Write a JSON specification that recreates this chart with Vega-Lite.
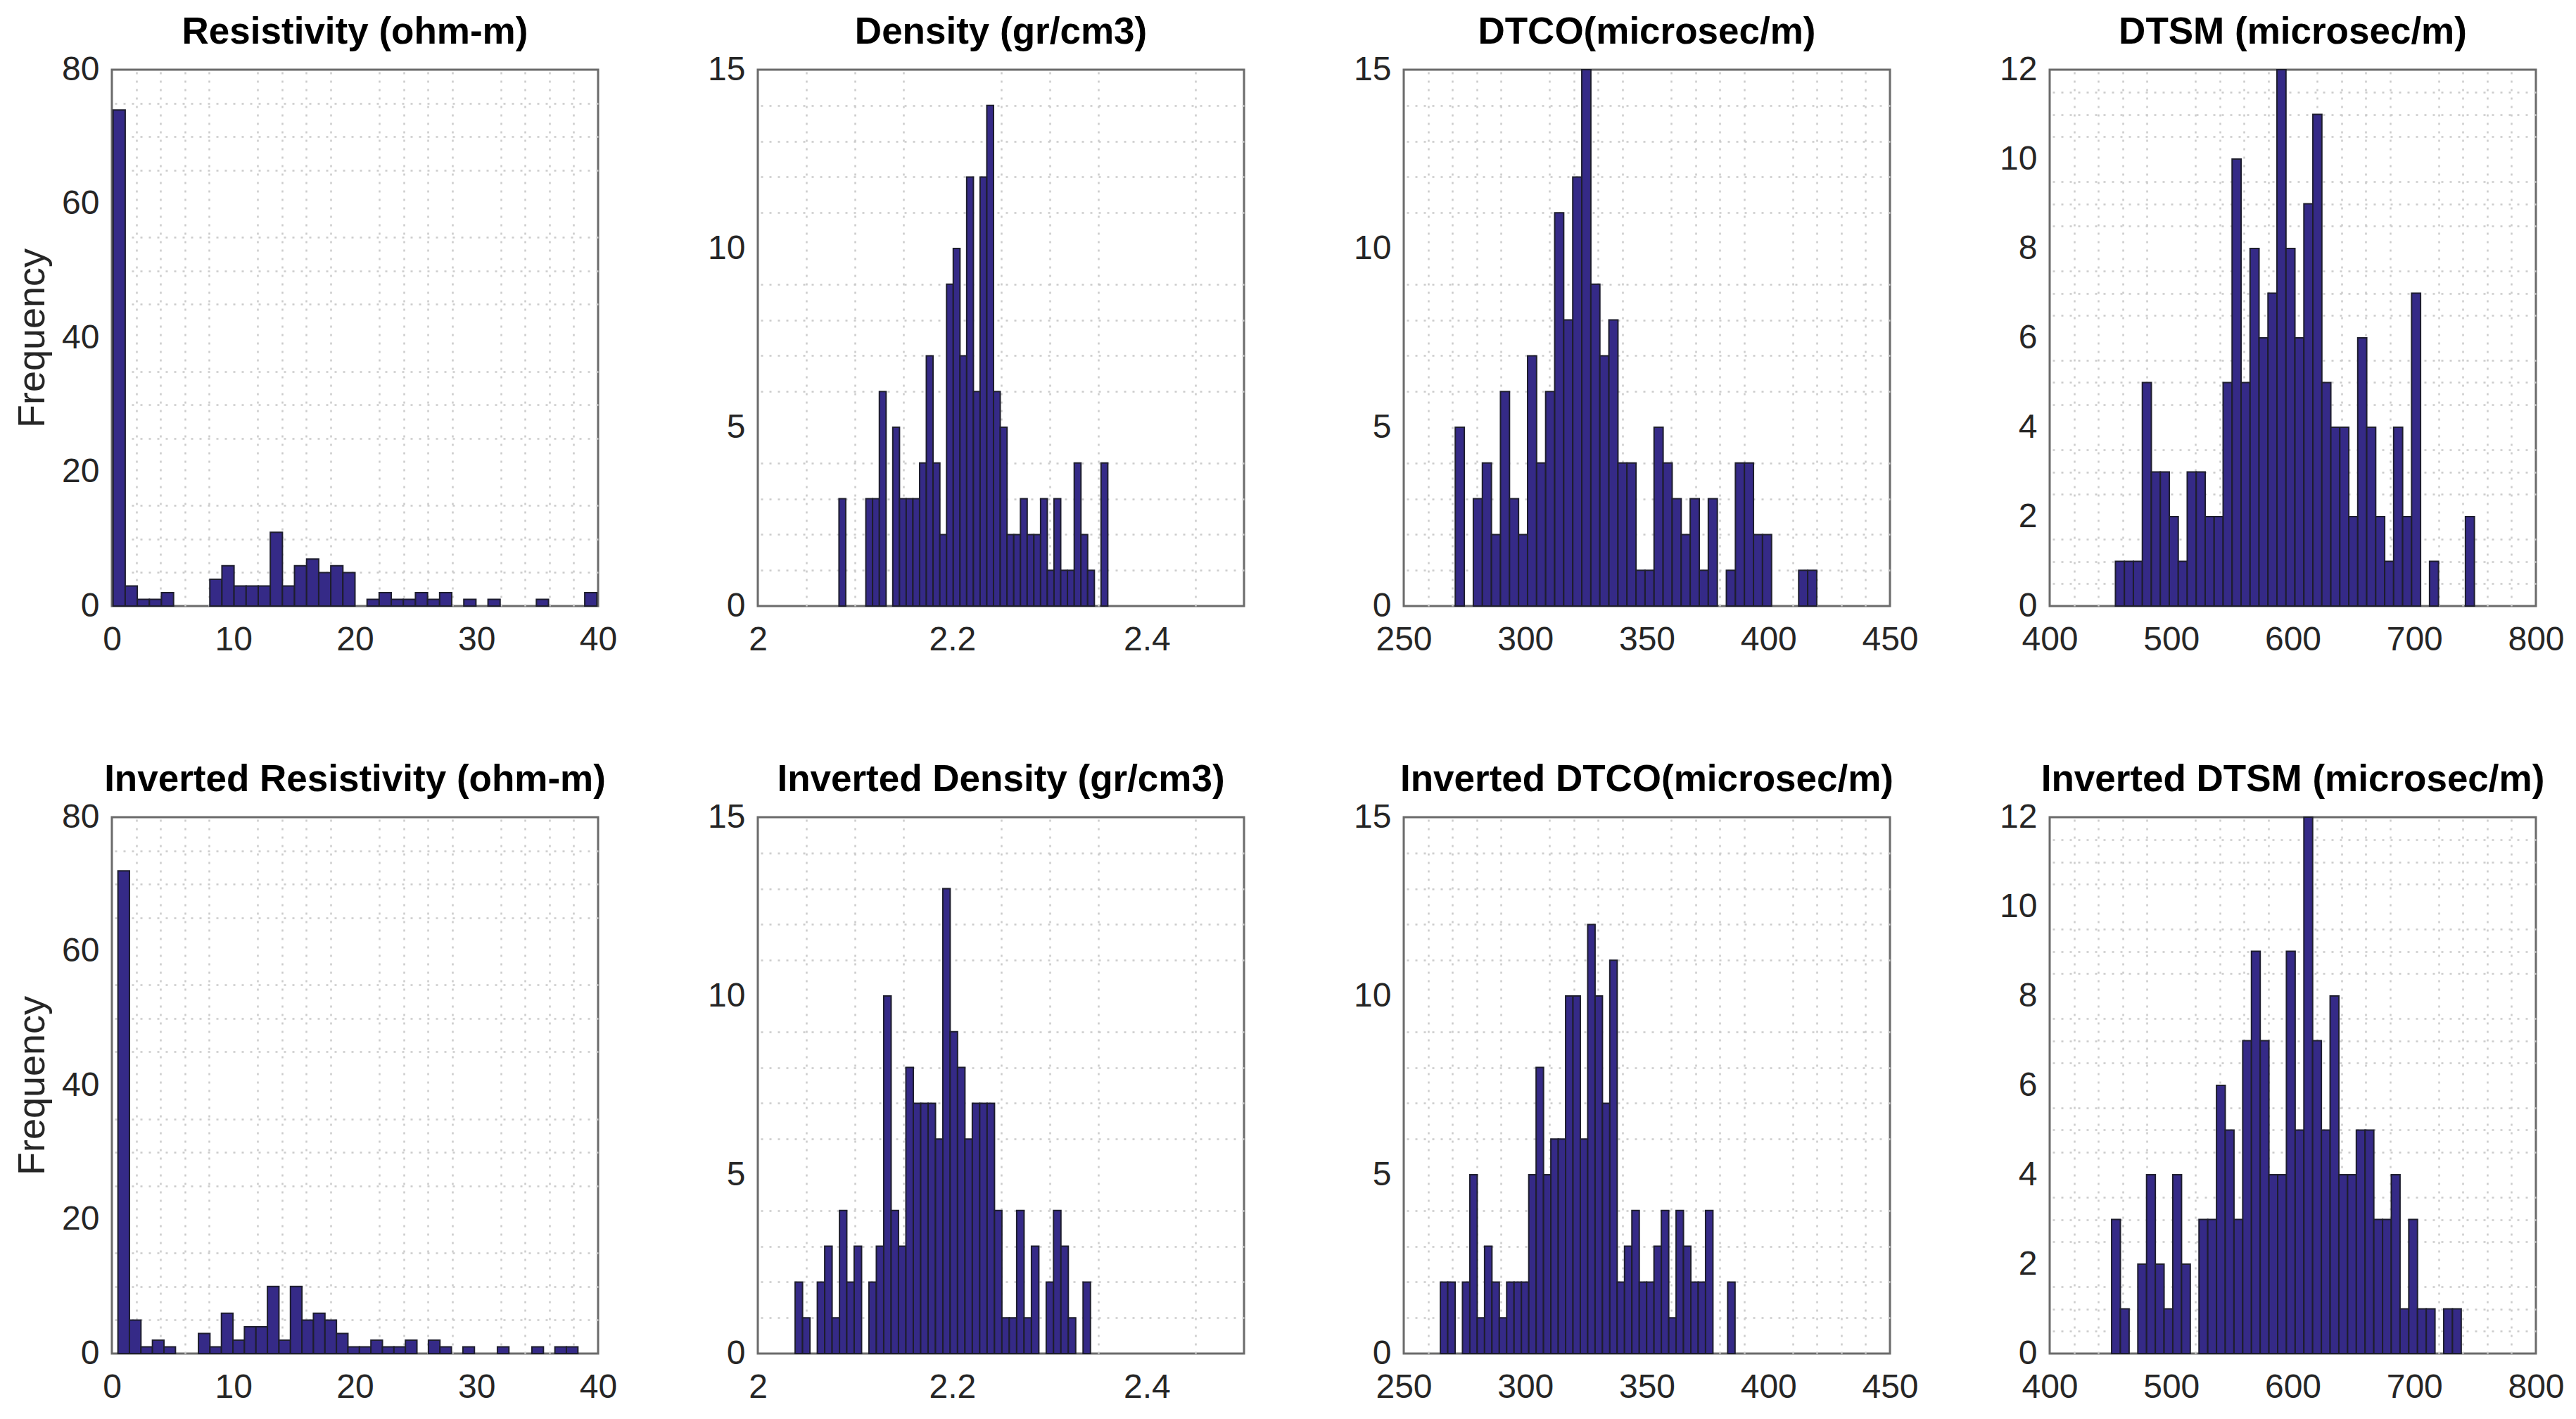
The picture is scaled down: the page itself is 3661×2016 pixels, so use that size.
{
  "$schema": "https://vega.github.io/schema/vega-lite/v6.json",
  "background": "white",
  "padding": {"left": 18, "top": 18, "right": 5, "bottom": 5},
  "config": {
    "view": {"stroke": "#6b6b6b", "strokeWidth": 3},
    "font": "Liberation Sans",
    "axis": {
      "labelFont": "Liberation Sans", "labelFontSize": 48, "labelColor": "#262626",
      "labelFlush": false, "labelOverlap": false, "labelBound": false,
      "gridColor": "#e3e3e3", "gridWidth": 3, "domain": false, "ticks": false,
      "titleFont": "Liberation Sans", "titleFontSize": 54, "titleFontWeight": "normal", "titleColor": "#262626"
    },
    "axisX": {"labelPadding": 24},
    "axisY": {"labelPadding": 18, "titlePadding": 14},
    "title": {"font": "Liberation Sans", "fontSize": 53, "fontWeight": "bold", "color": "#000000", "offset": 2, "anchor": "middle"}
  },
  "datasets": {
    "res": [{"lo":0.1,"hi":1.095,"n":74},{"lo":1.095,"hi":2.09,"n":3},{"lo":2.09,"hi":3.085,"n":1},{"lo":3.085,"hi":4.08,"n":1},{"lo":4.08,"hi":5.075,"n":2},{"lo":8.06,"hi":9.055,"n":4},{"lo":9.055,"hi":10.05,"n":6},{"lo":10.05,"hi":11.045,"n":3},{"lo":11.045,"hi":12.04,"n":3},{"lo":12.04,"hi":13.035,"n":3},{"lo":13.035,"hi":14.03,"n":11},{"lo":14.03,"hi":15.025,"n":3},{"lo":15.025,"hi":16.02,"n":6},{"lo":16.02,"hi":17.015,"n":7},{"lo":17.015,"hi":18.01,"n":5},{"lo":18.01,"hi":19.005,"n":6},{"lo":19.005,"hi":20.0,"n":5},{"lo":20.995,"hi":21.99,"n":1},{"lo":21.99,"hi":22.985,"n":2},{"lo":22.985,"hi":23.98,"n":1},{"lo":23.98,"hi":24.975,"n":1},{"lo":24.975,"hi":25.97,"n":2},{"lo":25.97,"hi":26.965,"n":1},{"lo":26.965,"hi":27.96,"n":2},{"lo":28.955,"hi":29.95,"n":1},{"lo":30.945,"hi":31.94,"n":1},{"lo":34.925,"hi":35.92,"n":1},{"lo":38.905,"hi":39.9,"n":2}],
    "den": [{"lo":2.0835,"hi":2.0904,"n":3},{"lo":2.1111,"hi":2.118,"n":3},{"lo":2.118,"hi":2.125,"n":3},{"lo":2.125,"hi":2.1319,"n":6},{"lo":2.1388,"hi":2.1457,"n":5},{"lo":2.1457,"hi":2.1526,"n":3},{"lo":2.1526,"hi":2.1595,"n":3},{"lo":2.1595,"hi":2.1664,"n":3},{"lo":2.1664,"hi":2.1733,"n":4},{"lo":2.1733,"hi":2.1802,"n":7},{"lo":2.1802,"hi":2.1872,"n":4},{"lo":2.1872,"hi":2.1941,"n":2},{"lo":2.1941,"hi":2.201,"n":9},{"lo":2.201,"hi":2.2079,"n":10},{"lo":2.2079,"hi":2.2148,"n":7},{"lo":2.2148,"hi":2.2217,"n":12},{"lo":2.2217,"hi":2.2286,"n":6},{"lo":2.2286,"hi":2.2355,"n":12},{"lo":2.2355,"hi":2.2424,"n":14},{"lo":2.2424,"hi":2.2493,"n":6},{"lo":2.2493,"hi":2.2563,"n":5},{"lo":2.2563,"hi":2.2632,"n":2},{"lo":2.2632,"hi":2.2701,"n":2},{"lo":2.2701,"hi":2.277,"n":3},{"lo":2.277,"hi":2.2839,"n":2},{"lo":2.2839,"hi":2.2908,"n":2},{"lo":2.2908,"hi":2.2977,"n":3},{"lo":2.2977,"hi":2.3046,"n":1},{"lo":2.3046,"hi":2.3115,"n":3},{"lo":2.3115,"hi":2.3184,"n":1},{"lo":2.3184,"hi":2.3254,"n":1},{"lo":2.3254,"hi":2.3323,"n":4},{"lo":2.3323,"hi":2.3392,"n":2},{"lo":2.3392,"hi":2.3461,"n":1},{"lo":2.353,"hi":2.3599,"n":4}],
    "dtco": [{"lo":271.2,"hi":274.92,"n":5},{"lo":278.63,"hi":282.35,"n":3},{"lo":282.35,"hi":286.07,"n":4},{"lo":286.07,"hi":289.79,"n":2},{"lo":289.79,"hi":293.5,"n":6},{"lo":293.5,"hi":297.22,"n":3},{"lo":297.22,"hi":300.94,"n":2},{"lo":300.94,"hi":304.65,"n":7},{"lo":304.65,"hi":308.37,"n":4},{"lo":308.37,"hi":312.09,"n":6},{"lo":312.09,"hi":315.8,"n":11},{"lo":315.8,"hi":319.52,"n":8},{"lo":319.52,"hi":323.24,"n":12},{"lo":323.24,"hi":326.96,"n":15},{"lo":326.96,"hi":330.67,"n":9},{"lo":330.67,"hi":334.39,"n":7},{"lo":334.39,"hi":338.11,"n":8},{"lo":338.11,"hi":341.82,"n":4},{"lo":341.82,"hi":345.54,"n":4},{"lo":345.54,"hi":349.26,"n":1},{"lo":349.26,"hi":352.97,"n":1},{"lo":352.97,"hi":356.69,"n":5},{"lo":356.69,"hi":360.41,"n":4},{"lo":360.41,"hi":364.13,"n":3},{"lo":364.13,"hi":367.84,"n":2},{"lo":367.84,"hi":371.56,"n":3},{"lo":371.56,"hi":375.28,"n":1},{"lo":375.28,"hi":378.99,"n":3},{"lo":382.71,"hi":386.43,"n":1},{"lo":386.43,"hi":390.14,"n":4},{"lo":390.14,"hi":393.86,"n":4},{"lo":393.86,"hi":397.58,"n":2},{"lo":397.58,"hi":401.3,"n":2},{"lo":412.45,"hi":416.16,"n":1},{"lo":416.16,"hi":419.88,"n":1}],
    "dtsm": [{"lo":454.1,"hi":461.48,"n":1},{"lo":461.48,"hi":468.87,"n":1},{"lo":468.87,"hi":476.25,"n":1},{"lo":476.25,"hi":483.63,"n":5},{"lo":483.63,"hi":491.02,"n":3},{"lo":491.02,"hi":498.4,"n":3},{"lo":498.4,"hi":505.78,"n":2},{"lo":505.78,"hi":513.16,"n":1},{"lo":513.16,"hi":520.55,"n":3},{"lo":520.55,"hi":527.93,"n":3},{"lo":527.93,"hi":535.31,"n":2},{"lo":535.31,"hi":542.7,"n":2},{"lo":542.7,"hi":550.08,"n":5},{"lo":550.08,"hi":557.46,"n":10},{"lo":557.46,"hi":564.85,"n":5},{"lo":564.85,"hi":572.23,"n":8},{"lo":572.23,"hi":579.61,"n":6},{"lo":579.61,"hi":586.99,"n":7},{"lo":586.99,"hi":594.38,"n":12},{"lo":594.38,"hi":601.76,"n":8},{"lo":601.76,"hi":609.14,"n":6},{"lo":609.14,"hi":616.53,"n":9},{"lo":616.53,"hi":623.91,"n":11},{"lo":623.91,"hi":631.29,"n":5},{"lo":631.29,"hi":638.68,"n":4},{"lo":638.68,"hi":646.06,"n":4},{"lo":646.06,"hi":653.44,"n":2},{"lo":653.44,"hi":660.82,"n":6},{"lo":660.82,"hi":668.21,"n":4},{"lo":668.21,"hi":675.59,"n":2},{"lo":675.59,"hi":682.97,"n":1},{"lo":682.97,"hi":690.36,"n":4},{"lo":690.36,"hi":697.74,"n":2},{"lo":697.74,"hi":705.12,"n":7},{"lo":712.51,"hi":719.89,"n":1},{"lo":742.04,"hi":749.42,"n":2}],
    "ires": [{"lo":0.5,"hi":1.446,"n":72},{"lo":1.446,"hi":2.392,"n":5},{"lo":2.392,"hi":3.338,"n":1},{"lo":3.338,"hi":4.284,"n":2},{"lo":4.284,"hi":5.23,"n":1},{"lo":7.122,"hi":8.068,"n":3},{"lo":8.068,"hi":9.014,"n":1},{"lo":9.014,"hi":9.96,"n":6},{"lo":9.96,"hi":10.906,"n":2},{"lo":10.906,"hi":11.852,"n":4},{"lo":11.852,"hi":12.798,"n":4},{"lo":12.798,"hi":13.744,"n":10},{"lo":13.744,"hi":14.69,"n":2},{"lo":14.69,"hi":15.636,"n":10},{"lo":15.636,"hi":16.582,"n":5},{"lo":16.582,"hi":17.528,"n":6},{"lo":17.528,"hi":18.474,"n":5},{"lo":18.474,"hi":19.42,"n":3},{"lo":19.42,"hi":20.366,"n":1},{"lo":20.366,"hi":21.312,"n":1},{"lo":21.312,"hi":22.258,"n":2},{"lo":22.258,"hi":23.204,"n":1},{"lo":23.204,"hi":24.15,"n":1},{"lo":24.15,"hi":25.096,"n":2},{"lo":26.042,"hi":26.988,"n":2},{"lo":26.988,"hi":27.934,"n":1},{"lo":28.88,"hi":29.826,"n":1},{"lo":31.718,"hi":32.664,"n":1},{"lo":34.556,"hi":35.502,"n":1},{"lo":36.448,"hi":37.394,"n":1},{"lo":37.394,"hi":38.34,"n":1}],
    "iden": [{"lo":2.0384,"hi":2.046,"n":2},{"lo":2.046,"hi":2.0536,"n":1},{"lo":2.0612,"hi":2.0688,"n":2},{"lo":2.0688,"hi":2.0764,"n":3},{"lo":2.0764,"hi":2.084,"n":1},{"lo":2.084,"hi":2.0915,"n":4},{"lo":2.0915,"hi":2.0991,"n":2},{"lo":2.0991,"hi":2.1067,"n":3},{"lo":2.1143,"hi":2.1219,"n":2},{"lo":2.1219,"hi":2.1295,"n":3},{"lo":2.1295,"hi":2.1371,"n":10},{"lo":2.1371,"hi":2.1447,"n":4},{"lo":2.1447,"hi":2.1523,"n":3},{"lo":2.1523,"hi":2.1599,"n":8},{"lo":2.1599,"hi":2.1675,"n":7},{"lo":2.1675,"hi":2.1751,"n":7},{"lo":2.1751,"hi":2.1827,"n":7},{"lo":2.1827,"hi":2.1903,"n":6},{"lo":2.1903,"hi":2.1978,"n":13},{"lo":2.1978,"hi":2.2054,"n":9},{"lo":2.2054,"hi":2.213,"n":8},{"lo":2.213,"hi":2.2206,"n":6},{"lo":2.2206,"hi":2.2282,"n":7},{"lo":2.2282,"hi":2.2358,"n":7},{"lo":2.2358,"hi":2.2434,"n":7},{"lo":2.2434,"hi":2.251,"n":4},{"lo":2.251,"hi":2.2586,"n":1},{"lo":2.2586,"hi":2.2662,"n":1},{"lo":2.2662,"hi":2.2738,"n":4},{"lo":2.2738,"hi":2.2814,"n":1},{"lo":2.2814,"hi":2.289,"n":3},{"lo":2.2966,"hi":2.3041,"n":2},{"lo":2.3041,"hi":2.3117,"n":4},{"lo":2.3117,"hi":2.3193,"n":3},{"lo":2.3193,"hi":2.3269,"n":1},{"lo":2.3345,"hi":2.3421,"n":2}],
    "idtco": [{"lo":265.07,"hi":268.1,"n":2},{"lo":268.1,"hi":271.13,"n":2},{"lo":274.16,"hi":277.19,"n":2},{"lo":277.19,"hi":280.22,"n":5},{"lo":280.22,"hi":283.25,"n":1},{"lo":283.25,"hi":286.28,"n":3},{"lo":286.28,"hi":289.31,"n":2},{"lo":289.31,"hi":292.34,"n":1},{"lo":292.34,"hi":295.37,"n":2},{"lo":295.37,"hi":298.4,"n":2},{"lo":298.4,"hi":301.43,"n":2},{"lo":301.43,"hi":304.46,"n":5},{"lo":304.46,"hi":307.49,"n":8},{"lo":307.49,"hi":310.52,"n":5},{"lo":310.52,"hi":313.55,"n":6},{"lo":313.55,"hi":316.58,"n":6},{"lo":316.58,"hi":319.61,"n":10},{"lo":319.61,"hi":322.64,"n":10},{"lo":322.64,"hi":325.67,"n":6},{"lo":325.67,"hi":328.7,"n":12},{"lo":328.7,"hi":331.73,"n":10},{"lo":331.73,"hi":334.76,"n":7},{"lo":334.76,"hi":337.79,"n":11},{"lo":337.79,"hi":340.82,"n":2},{"lo":340.82,"hi":343.85,"n":3},{"lo":343.85,"hi":346.88,"n":4},{"lo":346.88,"hi":349.91,"n":2},{"lo":349.91,"hi":352.94,"n":2},{"lo":352.94,"hi":355.97,"n":3},{"lo":355.97,"hi":359.0,"n":4},{"lo":359.0,"hi":362.03,"n":1},{"lo":362.03,"hi":365.06,"n":4},{"lo":365.06,"hi":368.09,"n":3},{"lo":368.09,"hi":371.12,"n":2},{"lo":371.12,"hi":374.15,"n":2},{"lo":374.15,"hi":377.18,"n":4},{"lo":383.24,"hi":386.27,"n":2}],
    "idtsm": [{"lo":450.96,"hi":458.15,"n":3},{"lo":458.15,"hi":465.34,"n":1},{"lo":472.53,"hi":479.72,"n":2},{"lo":479.72,"hi":486.91,"n":4},{"lo":486.91,"hi":494.1,"n":2},{"lo":494.1,"hi":501.29,"n":1},{"lo":501.29,"hi":508.48,"n":4},{"lo":508.48,"hi":515.67,"n":2},{"lo":522.86,"hi":530.05,"n":3},{"lo":530.05,"hi":537.24,"n":3},{"lo":537.24,"hi":544.43,"n":6},{"lo":544.43,"hi":551.62,"n":5},{"lo":551.62,"hi":558.81,"n":3},{"lo":558.81,"hi":566.0,"n":7},{"lo":566.0,"hi":573.19,"n":9},{"lo":573.19,"hi":580.38,"n":7},{"lo":580.38,"hi":587.57,"n":4},{"lo":587.57,"hi":594.76,"n":4},{"lo":594.76,"hi":601.95,"n":9},{"lo":601.95,"hi":609.14,"n":5},{"lo":609.14,"hi":616.33,"n":12},{"lo":616.33,"hi":623.52,"n":7},{"lo":623.52,"hi":630.71,"n":5},{"lo":630.71,"hi":637.9,"n":8},{"lo":637.9,"hi":645.09,"n":4},{"lo":645.09,"hi":652.28,"n":4},{"lo":652.28,"hi":659.47,"n":5},{"lo":659.47,"hi":666.66,"n":5},{"lo":666.66,"hi":673.85,"n":3},{"lo":673.85,"hi":681.04,"n":3},{"lo":681.04,"hi":688.23,"n":4},{"lo":688.23,"hi":695.42,"n":1},{"lo":695.42,"hi":702.61,"n":3},{"lo":702.61,"hi":709.8,"n":1},{"lo":709.8,"hi":716.99,"n":1},{"lo":724.18,"hi":731.37,"n":1},{"lo":731.37,"hi":738.56,"n":1}]
  },
  "columns": 4,
  "bounds": "flush",
  "spacing": {"row": 300, "column": 227},
  "concat": [
    {
      "width": 691, "height": 762, "title": "Resistivity (ohm-m)", "data": {"name": "res"},
      "layer": [
        {"mark": {"type": "bar", "opacity": 0},
         "encoding": {
           "x": {"field": "lo", "type": "quantitative", "scale": {"domain": [0, 40], "nice": false}, "axis": {"orient": "top", "values": [2,4,6,8,12,14,16,18,22,24,26,28,32,34,36,38], "labels": false, "title": null, "gridColor": "#cccccc", "gridDash": [3, 9], "gridWidth": 2.5}},
           "x2": {"field": "hi"},
           "y": {"field": "n", "type": "quantitative", "scale": {"domain": [0, 80], "nice": false}, "axis": {"orient": "right", "values": [5,10,15,25,30,35,45,50,55,65,70,75], "labels": false, "title": null, "gridColor": "#cccccc", "gridDash": [3, 9], "gridWidth": 2.5}},
           "y2": {"datum": 0}
         }},
        {"mark": {"type": "bar", "fill": "#352a87", "stroke": "#1e1e2e", "strokeWidth": 2},
         "encoding": {
           "x": {"field": "lo", "type": "quantitative", "axis": {"orient": "bottom", "values": [0,10,20,30,40], "format": "~f", "title": null}},
           "x2": {"field": "hi"},
           "y": {"field": "n", "type": "quantitative", "axis": {"orient": "left", "values": [0,20,40,60,80], "format": "~f", "title": "Frequency"}},
           "y2": {"datum": 0}
         }}
      ],
      "resolve": {"axis": {"x": "independent", "y": "independent"}}
    },
    {
      "width": 691, "height": 762, "title": "Density (gr/cm3)", "data": {"name": "den"},
      "layer": [
        {"mark": {"type": "bar", "opacity": 0},
         "encoding": {
           "x": {"field": "lo", "type": "quantitative", "scale": {"domain": [2, 2.5], "nice": false}, "axis": {"orient": "top", "values": [2.05,2.1,2.15,2.25,2.3,2.35,2.45], "labels": false, "title": null, "gridColor": "#cccccc", "gridDash": [3, 9], "gridWidth": 2.5}},
           "x2": {"field": "hi"},
           "y": {"field": "n", "type": "quantitative", "scale": {"domain": [0, 15], "nice": false}, "axis": {"orient": "right", "values": [1,2,3,4,6,7,8,9,11,12,13,14], "labels": false, "title": null, "gridColor": "#cccccc", "gridDash": [3, 9], "gridWidth": 2.5}},
           "y2": {"datum": 0}
         }},
        {"mark": {"type": "bar", "fill": "#352a87", "stroke": "#1e1e2e", "strokeWidth": 2},
         "encoding": {
           "x": {"field": "lo", "type": "quantitative", "axis": {"orient": "bottom", "values": [2,2.2,2.4], "format": "~f", "title": null}},
           "x2": {"field": "hi"},
           "y": {"field": "n", "type": "quantitative", "axis": {"orient": "left", "values": [0,5,10,15], "format": "~f", "title": null}},
           "y2": {"datum": 0}
         }}
      ],
      "resolve": {"axis": {"x": "independent", "y": "independent"}}
    },
    {
      "width": 691, "height": 762, "title": "DTCO(microsec/m)", "data": {"name": "dtco"},
      "layer": [
        {"mark": {"type": "bar", "opacity": 0},
         "encoding": {
           "x": {"field": "lo", "type": "quantitative", "scale": {"domain": [250, 450], "nice": false}, "axis": {"orient": "top", "values": [260,270,280,290,310,320,330,340,360,370,380,390,410,420,430,440], "labels": false, "title": null, "gridColor": "#cccccc", "gridDash": [3, 9], "gridWidth": 2.5}},
           "x2": {"field": "hi"},
           "y": {"field": "n", "type": "quantitative", "scale": {"domain": [0, 15], "nice": false}, "axis": {"orient": "right", "values": [1,2,3,4,6,7,8,9,11,12,13,14], "labels": false, "title": null, "gridColor": "#cccccc", "gridDash": [3, 9], "gridWidth": 2.5}},
           "y2": {"datum": 0}
         }},
        {"mark": {"type": "bar", "fill": "#352a87", "stroke": "#1e1e2e", "strokeWidth": 2},
         "encoding": {
           "x": {"field": "lo", "type": "quantitative", "axis": {"orient": "bottom", "values": [250,300,350,400,450], "format": "~f", "title": null}},
           "x2": {"field": "hi"},
           "y": {"field": "n", "type": "quantitative", "axis": {"orient": "left", "values": [0,5,10,15], "format": "~f", "title": null}},
           "y2": {"datum": 0}
         }}
      ],
      "resolve": {"axis": {"x": "independent", "y": "independent"}}
    },
    {
      "width": 691, "height": 762, "title": "DTSM (microsec/m)", "data": {"name": "dtsm"},
      "layer": [
        {"mark": {"type": "bar", "opacity": 0},
         "encoding": {
           "x": {"field": "lo", "type": "quantitative", "scale": {"domain": [400, 800], "nice": false}, "axis": {"orient": "top", "values": [420,440,460,480,520,540,560,580,620,640,660,680,720,740,760,780], "labels": false, "title": null, "gridColor": "#cccccc", "gridDash": [3, 9], "gridWidth": 2.5}},
           "x2": {"field": "hi"},
           "y": {"field": "n", "type": "quantitative", "scale": {"domain": [0, 12], "nice": false}, "axis": {"orient": "right", "values": [0.5,1,1.5,2.5,3,3.5,4.5,5,5.5,6.5,7,7.5,8.5,9,9.5,10.5,11,11.5], "labels": false, "title": null, "gridColor": "#cccccc", "gridDash": [3, 9], "gridWidth": 2.5}},
           "y2": {"datum": 0}
         }},
        {"mark": {"type": "bar", "fill": "#352a87", "stroke": "#1e1e2e", "strokeWidth": 2},
         "encoding": {
           "x": {"field": "lo", "type": "quantitative", "axis": {"orient": "bottom", "values": [400,500,600,700,800], "format": "~f", "title": null}},
           "x2": {"field": "hi"},
           "y": {"field": "n", "type": "quantitative", "axis": {"orient": "left", "values": [0,2,4,6,8,10,12], "format": "~f", "title": null}},
           "y2": {"datum": 0}
         }}
      ],
      "resolve": {"axis": {"x": "independent", "y": "independent"}}
    },
    {
      "width": 691, "height": 762, "title": "Inverted Resistivity (ohm-m)", "data": {"name": "ires"},
      "layer": [
        {"mark": {"type": "bar", "opacity": 0},
         "encoding": {
           "x": {"field": "lo", "type": "quantitative", "scale": {"domain": [0, 40], "nice": false}, "axis": {"orient": "top", "values": [2,4,6,8,12,14,16,18,22,24,26,28,32,34,36,38], "labels": false, "title": null, "gridColor": "#cccccc", "gridDash": [3, 9], "gridWidth": 2.5}},
           "x2": {"field": "hi"},
           "y": {"field": "n", "type": "quantitative", "scale": {"domain": [0, 80], "nice": false}, "axis": {"orient": "right", "values": [5,10,15,25,30,35,45,50,55,65,70,75], "labels": false, "title": null, "gridColor": "#cccccc", "gridDash": [3, 9], "gridWidth": 2.5}},
           "y2": {"datum": 0}
         }},
        {"mark": {"type": "bar", "fill": "#352a87", "stroke": "#1e1e2e", "strokeWidth": 2},
         "encoding": {
           "x": {"field": "lo", "type": "quantitative", "axis": {"orient": "bottom", "values": [0,10,20,30,40], "format": "~f", "title": null}},
           "x2": {"field": "hi"},
           "y": {"field": "n", "type": "quantitative", "axis": {"orient": "left", "values": [0,20,40,60,80], "format": "~f", "title": "Frequency"}},
           "y2": {"datum": 0}
         }}
      ],
      "resolve": {"axis": {"x": "independent", "y": "independent"}}
    },
    {
      "width": 691, "height": 762, "title": "Inverted Density (gr/cm3)", "data": {"name": "iden"},
      "layer": [
        {"mark": {"type": "bar", "opacity": 0},
         "encoding": {
           "x": {"field": "lo", "type": "quantitative", "scale": {"domain": [2, 2.5], "nice": false}, "axis": {"orient": "top", "values": [2.05,2.1,2.15,2.25,2.3,2.35,2.45], "labels": false, "title": null, "gridColor": "#cccccc", "gridDash": [3, 9], "gridWidth": 2.5}},
           "x2": {"field": "hi"},
           "y": {"field": "n", "type": "quantitative", "scale": {"domain": [0, 15], "nice": false}, "axis": {"orient": "right", "values": [1,2,3,4,6,7,8,9,11,12,13,14], "labels": false, "title": null, "gridColor": "#cccccc", "gridDash": [3, 9], "gridWidth": 2.5}},
           "y2": {"datum": 0}
         }},
        {"mark": {"type": "bar", "fill": "#352a87", "stroke": "#1e1e2e", "strokeWidth": 2},
         "encoding": {
           "x": {"field": "lo", "type": "quantitative", "axis": {"orient": "bottom", "values": [2,2.2,2.4], "format": "~f", "title": null}},
           "x2": {"field": "hi"},
           "y": {"field": "n", "type": "quantitative", "axis": {"orient": "left", "values": [0,5,10,15], "format": "~f", "title": null}},
           "y2": {"datum": 0}
         }}
      ],
      "resolve": {"axis": {"x": "independent", "y": "independent"}}
    },
    {
      "width": 691, "height": 762, "title": "Inverted DTCO(microsec/m)", "data": {"name": "idtco"},
      "layer": [
        {"mark": {"type": "bar", "opacity": 0},
         "encoding": {
           "x": {"field": "lo", "type": "quantitative", "scale": {"domain": [250, 450], "nice": false}, "axis": {"orient": "top", "values": [260,270,280,290,310,320,330,340,360,370,380,390,410,420,430,440], "labels": false, "title": null, "gridColor": "#cccccc", "gridDash": [3, 9], "gridWidth": 2.5}},
           "x2": {"field": "hi"},
           "y": {"field": "n", "type": "quantitative", "scale": {"domain": [0, 15], "nice": false}, "axis": {"orient": "right", "values": [1,2,3,4,6,7,8,9,11,12,13,14], "labels": false, "title": null, "gridColor": "#cccccc", "gridDash": [3, 9], "gridWidth": 2.5}},
           "y2": {"datum": 0}
         }},
        {"mark": {"type": "bar", "fill": "#352a87", "stroke": "#1e1e2e", "strokeWidth": 2},
         "encoding": {
           "x": {"field": "lo", "type": "quantitative", "axis": {"orient": "bottom", "values": [250,300,350,400,450], "format": "~f", "title": null}},
           "x2": {"field": "hi"},
           "y": {"field": "n", "type": "quantitative", "axis": {"orient": "left", "values": [0,5,10,15], "format": "~f", "title": null}},
           "y2": {"datum": 0}
         }}
      ],
      "resolve": {"axis": {"x": "independent", "y": "independent"}}
    },
    {
      "width": 691, "height": 762, "title": "Inverted DTSM (microsec/m)", "data": {"name": "idtsm"},
      "layer": [
        {"mark": {"type": "bar", "opacity": 0},
         "encoding": {
           "x": {"field": "lo", "type": "quantitative", "scale": {"domain": [400, 800], "nice": false}, "axis": {"orient": "top", "values": [420,440,460,480,520,540,560,580,620,640,660,680,720,740,760,780], "labels": false, "title": null, "gridColor": "#cccccc", "gridDash": [3, 9], "gridWidth": 2.5}},
           "x2": {"field": "hi"},
           "y": {"field": "n", "type": "quantitative", "scale": {"domain": [0, 12], "nice": false}, "axis": {"orient": "right", "values": [0.5,1,1.5,2.5,3,3.5,4.5,5,5.5,6.5,7,7.5,8.5,9,9.5,10.5,11,11.5], "labels": false, "title": null, "gridColor": "#cccccc", "gridDash": [3, 9], "gridWidth": 2.5}},
           "y2": {"datum": 0}
         }},
        {"mark": {"type": "bar", "fill": "#352a87", "stroke": "#1e1e2e", "strokeWidth": 2},
         "encoding": {
           "x": {"field": "lo", "type": "quantitative", "axis": {"orient": "bottom", "values": [400,500,600,700,800], "format": "~f", "title": null}},
           "x2": {"field": "hi"},
           "y": {"field": "n", "type": "quantitative", "axis": {"orient": "left", "values": [0,2,4,6,8,10,12], "format": "~f", "title": null}},
           "y2": {"datum": 0}
         }}
      ],
      "resolve": {"axis": {"x": "independent", "y": "independent"}}
    }
  ]
}
